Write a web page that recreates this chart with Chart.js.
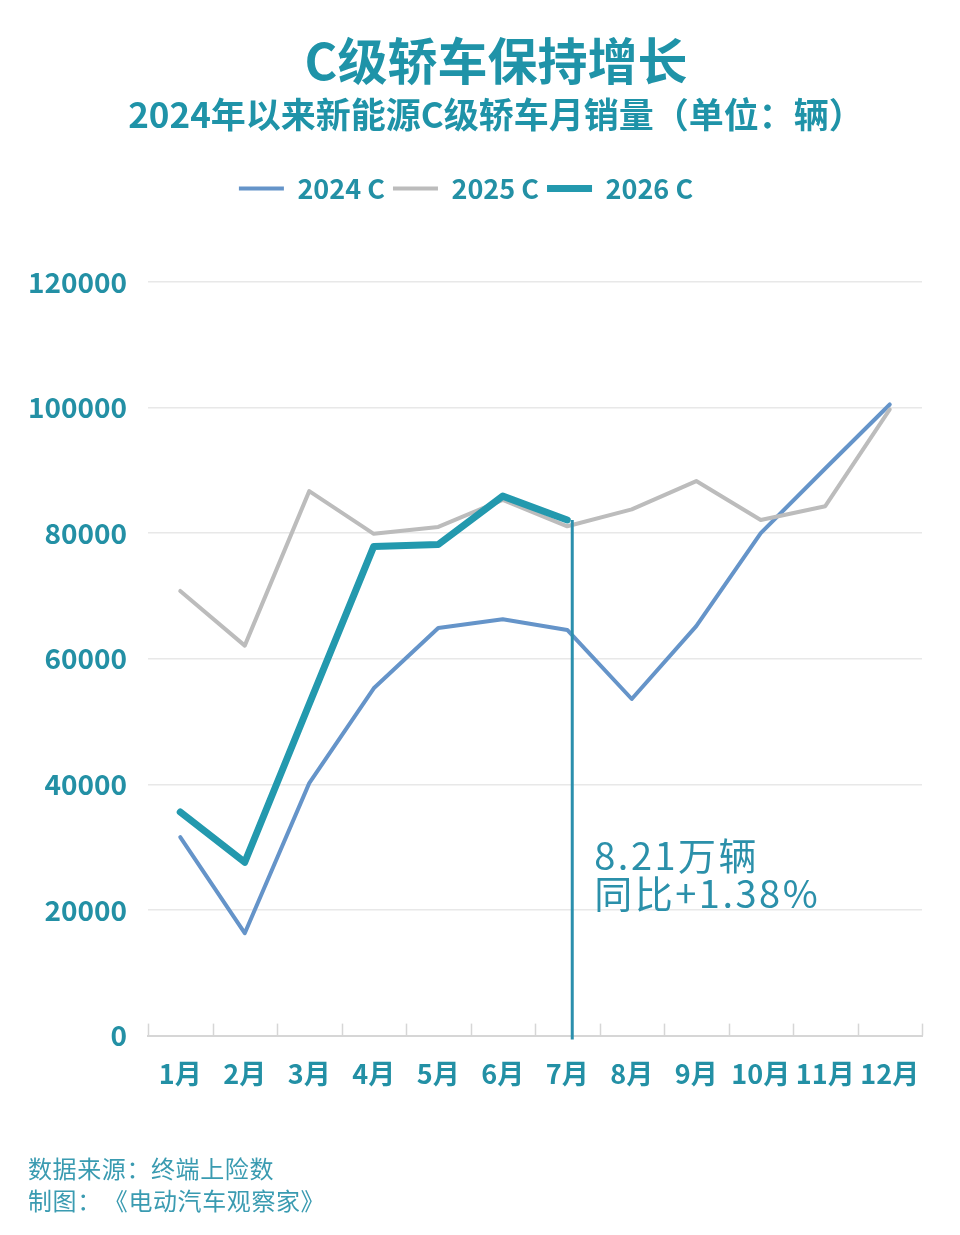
<!DOCTYPE html>
<html>
<head>
<meta charset="utf-8">
<script src="https://cdn.jsdelivr.net/npm/chart.js@4"></script>
<style>
  html, body { margin: 0; padding: 0; background: #fff; }
  #wrap { position: relative; width: 960px; height: 1235px; background: #fff; overflow: hidden; font-family: "Noto Sans CJK SC", "Noto Sans", sans-serif; }
  #grafico { position: absolute; left: 0; top: 0; }
  .titulo { position: absolute; left: 496px; transform: translateX(-50%); white-space: nowrap; color: #1f93a8; font-weight: bold; }
  #t1 { top: 22px; font-size: 50px; }
  #t2 { top: 87px; font-size: 35px; }
  .rodape { position: absolute; left: 28px; color: #3a9bb1; font-size: 24px; letter-spacing: 0.6px; white-space: nowrap; }
  .rodape span { margin-left: 14px; }
</style>
</head>
<body>
<div id="wrap">
  <canvas id="grafico" width="960" height="1235"></canvas>
  <div class="titulo" id="t1">C级轿车保持增长</div>
  <div class="titulo" id="t2">2024年以来新能源C级轿车月销量（单位：辆）</div>
  <div class="rodape" style="top:1150px">数据来源：终端上险数</div>
  <div class="rodape" style="top:1182px">制图：<span>《电动汽车观察家》</span></div>
</div>
<script>
// dados
const meses = ['1月', '2月', '3月', '4月', '5月', '6月', '7月', '8月', '9月', '10月', '11月', '12月'];
const vendas2024 = [31600, 16300, 40200, 55300, 64900, 66300, 64600, 53600, 65200, 80000, 90300, 100500];
const vendas2025 = [70800, 62100, 86700, 79900, 81000, 85300, 81100, 83800, 88300, 82100, 84300, 99700];
const vendas2026 = [35600, 27600, 52800, 77900, 78200, 85900, 82100];
const ticksY = [0, 20000, 40000, 60000, 80000, 100000, 120000];
const destaqueTexto = ['8.21万辆', '同比+1.38%'];
const destaqueIndice = 6;

const corTexto = '#2390a5';
const fonte = '"Noto Sans CJK SC", "Noto Sans", sans-serif';

/* =========================
   PLUGINS
========================= */
// espaco extra abaixo da legenda
const espacoLegenda = {
  id: 'espacoLegenda',
  beforeInit(chart) {
    const fitOriginal = chart.legend.fit;
    chart.legend.fit = function () {
      fitOriginal.bind(chart.legend)();
      this.height += 70;
    };
  }
};

// tracinhos do eixo x (para cima) e linha de destaque em 7月
const marcas = {
  id: 'marcas',
  afterDatasetsDraw(chart) {
    const { ctx, chartArea } = chart;
    const x = chart.scales.x;

    ctx.save();
    ctx.strokeStyle = '#d6d6d6';
    ctx.lineWidth = 1.5;
    for (let i = 0; i <= meses.length; i++) {
      const px = Math.round(x.getPixelForValue(i - 0.5)) + 0.5;
      ctx.beginPath();
      ctx.moveTo(px, chartArea.bottom);
      ctx.lineTo(px, chartArea.bottom - 12);
      ctx.stroke();
    }

    const ponto = chart.getDatasetMeta(2).data[destaqueIndice];
    const lx = ponto.x + 5;
    ctx.strokeStyle = '#2b8fad';
    ctx.lineWidth = 3;
    ctx.beginPath();
    ctx.moveTo(lx, ponto.y);
    ctx.lineTo(lx, chartArea.bottom + 4);
    ctx.stroke();

    ctx.fillStyle = '#2b90aa';
    ctx.font = '38px ' + fonte;
    ctx.textAlign = 'left';
    ctx.textBaseline = 'alphabetic';
    if ('letterSpacing' in ctx) ctx.letterSpacing = '2.5px';
    ctx.fillText(destaqueTexto[0], lx + 22, 870);
    ctx.fillText(destaqueTexto[1], lx + 22, 908);
    ctx.restore();
  }
};

/* =========================
   GRAFICO
========================= */
new Chart(document.getElementById('grafico'), {
  type: 'line',
  data: {
    labels: meses,
    datasets: [
      {
        label: '2024 C',
        data: vendas2024,
        borderColor: '#6594c9',
        backgroundColor: '#6594c9',
        borderWidth: 4,
        order: 3
      },
      {
        label: '2025 C',
        data: vendas2025,
        borderColor: '#bcbcbc',
        backgroundColor: '#bcbcbc',
        borderWidth: 4,
        order: 2
      },
      {
        label: '2026 C',
        data: vendas2026,
        borderColor: '#2399ae',
        backgroundColor: '#2399ae',
        borderWidth: 7,
        order: 1
      }
    ]
  },
  options: {
    responsive: false,
    animation: false,
    devicePixelRatio: 1,
    layout: {
      padding: { top: 167, left: 10, right: 38, bottom: 123 }
    },
    elements: {
      point: { radius: 0, hoverRadius: 0 },
      line: { tension: 0, borderCapStyle: 'round', borderJoinStyle: 'round' }
    },
    plugins: {
      tooltip: { enabled: false },
      legend: {
        position: 'top',
        labels: {
          usePointStyle: true,
          pointStyle: 'line',
          pointStyleWidth: 45,
          boxHeight: 27,
          padding: 8,
          color: corTexto,
          sort: (a, b) => a.datasetIndex - b.datasetIndex,
          font: { family: fonte, size: 27, weight: 'bold' }
        }
      }
    },
    scales: {
      x: {
        offset: true,
        grid: { display: false, drawTicks: false },
        border: { display: true, color: '#d6d6d6', width: 2 },
        ticks: {
          color: corTexto,
          padding: 22,
          maxRotation: 0,
          autoSkip: false,
          font: { family: fonte, size: 27, weight: 'bold' }
        }
      },
      y: {
        min: 0,
        max: 120000,
        afterFit(scale) { scale.width = 138; },
        afterBuildTicks(scale) { scale.ticks = ticksY.map(v => ({ value: v })); },
        grid: { color: '#e8e8e8', lineWidth: 1.5, drawTicks: false },
        border: { display: false },
        ticks: {
          color: corTexto,
          padding: 21,
          callback: v => String(v),
          font: { family: fonte, size: 28, weight: 'bold' }
        }
      }
    }
  },
  plugins: [espacoLegenda, marcas]
});
</script>
</body>
</html>
